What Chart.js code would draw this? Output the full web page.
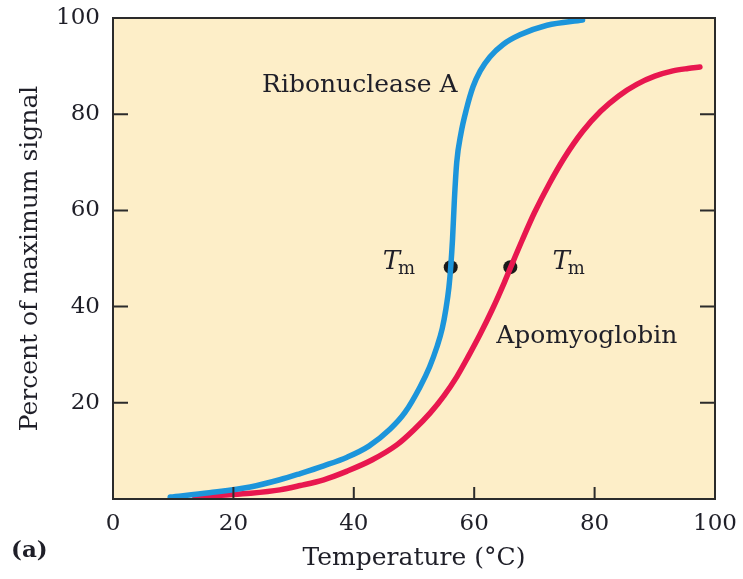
<!DOCTYPE html>
<html>
<head>
<title>Protein melting curves</title>
<script src="https://cdn.jsdelivr.net/npm/chart.js@4.4.1/dist/chart.umd.min.js"></script>
<style>
    body { margin: 0; background: #ffffff; }
    #wrap { width: 743px; height: 579px; position: relative; }
</style>
</head>
<body>
<div id="wrap"><canvas id="meltChart"></canvas></div>
<script>
// temperature (°C) and percent of max signal
const ribT = [9.5, 16, 22.8, 27.7, 31.1, 35, 38.9, 42.5, 46, 48.5, 51, 52.6, 53.8, 54.7, 55.3, 55.8, 56.1, 56.4, 56.7, 57.1, 57.8, 58.7, 59.8, 61, 62.6, 64.8, 67.6, 72.1, 78];
const ribV = [0.4, 1.3, 2.5, 4, 5.3, 6.9, 8.7, 11, 14.5, 18, 23.3, 27.5, 31.6, 35.5, 39.5, 44, 48.2, 54, 62, 70, 76, 81, 85.7, 89, 91.9, 94.5, 96.5, 98.5, 99.6];
const apoT = [13.6, 18, 22.8, 27.7, 31.1, 35, 38.9, 43, 47.2, 50, 52.7, 55, 57.1, 59, 61, 63, 65, 66, 68, 70, 72.5, 75, 78, 81, 84, 87, 90, 93, 95.5, 97.5];
const apoV = [0.4, 0.8, 1.2, 1.9, 2.8, 4, 5.8, 8.1, 11.3, 14.4, 17.9, 21.5, 25.4, 29.6, 34.3, 39.4, 45, 48, 53.9, 59.5, 65.6, 71, 76.4, 80.6, 83.8, 86.2, 87.9, 89, 89.5, 89.8];
const tmT = [56.1, 66];
const tmV = [48.2, 48.2];
const xTicks = [0, 20, 40, 60, 80, 100];
const yTicks = [20, 40, 60, 80, 100];

const serif = '"DejaVu Serif", "Liberation Serif", serif';
const ink = '#1f1f28';

function pts(xs, ys) {
    return xs.map((x, i) => ({ x: x, y: ys[i] }));
}

// background, frame and inward tick marks
const framePlugin = {
    id: 'frame',
    beforeDatasetsDraw(chart) {
        const { ctx, chartArea: a } = chart;
        ctx.save();
        ctx.fillStyle = '#fdeec8';
        ctx.fillRect(a.left, a.top, a.right - a.left, a.bottom - a.top);
        ctx.restore();
    },
    afterDatasetsDraw(chart) {
        const { ctx, chartArea: a, scales } = chart;
        ctx.save();
        ctx.strokeStyle = '#2b2b2b';
        ctx.lineWidth = 2;
        ctx.beginPath();
        [20, 40, 60, 80].forEach(v => {
            const y = scales.y.getPixelForValue(v);
            ctx.moveTo(a.left, y); ctx.lineTo(a.left + 15, y);
            ctx.moveTo(a.right, y); ctx.lineTo(a.right - 15, y);
            const x = scales.x.getPixelForValue(v);
            ctx.moveTo(x, a.bottom); ctx.lineTo(x, a.bottom - 12);
        });
        ctx.stroke();
        ctx.strokeRect(a.left, a.top, a.right - a.left, a.bottom - a.top);
        ctx.restore();
    }
};

// curve names, T_m labels and panel letter
const labelPlugin = {
    id: 'labels',
    afterDraw(chart) {
        const { ctx, scales } = chart;
        const sx = v => scales.x.getPixelForValue(v);
        const sy = v => scales.y.getPixelForValue(v);
        ctx.save();
        ctx.fillStyle = ink;
        ctx.textBaseline = 'middle';
        ctx.textAlign = 'center';
        ctx.font = '25px ' + serif;
        ctx.fillText('Ribonuclease A', sx(41), sy(86));
        ctx.fillText('Apomyoglobin', sx(78.7), sy(33.7));
        ctx.textAlign = 'left';
        [44.8, 73.0].forEach(t => {
            const x = sx(t), y = sy(49.2);
            ctx.font = 'italic 26px ' + serif;
            ctx.fillText('T', x, y);
            const w = ctx.measureText('T').width;
            ctx.font = '18px ' + serif;
            ctx.fillText('m', x + w - 2, y + 7);
        });
        ctx.font = 'bold 23px ' + serif;
        ctx.fillText('(a)', 11, 551);
        ctx.restore();
    }
};

new Chart(document.getElementById('meltChart'), {
    type: 'line',
    data: {
        datasets: [
            {
                label: 'Ribonuclease A',
                data: pts(ribT, ribV),
                borderColor: '#1c95db',
                borderWidth: 5.5,
                borderCapStyle: 'round',
                cubicInterpolationMode: 'monotone',
                pointRadius: 0,
                fill: false
            },
            {
                label: 'Apomyoglobin',
                data: pts(apoT, apoV),
                borderColor: '#e8174f',
                borderWidth: 5.5,
                borderCapStyle: 'round',
                cubicInterpolationMode: 'monotone',
                pointRadius: 0,
                fill: false
            },
            {
                label: 'Tm',
                data: pts(tmT, tmV),
                showLine: false,
                pointRadius: 7,
                pointBackgroundColor: '#1a1a1a',
                pointBorderWidth: 0
            }
        ]
    },
    options: {
        responsive: true,
        maintainAspectRatio: false,
        animation: false,
        layout: { padding: { top: 18, right: 28, left: 0, bottom: 0 } },
        plugins: { legend: { display: false }, tooltip: { enabled: false } },
        scales: {
            x: {
                type: 'linear',
                min: 0, max: 100,
                afterBuildTicks: s => { s.ticks = xTicks.map(v => ({ value: v })); },
                afterFit: s => { s.height = 80; s.paddingLeft = 0; s.paddingRight = 0; },
                grid: { display: false, drawTicks: false },
                border: { display: false },
                ticks: { color: ink, padding: 11, font: { family: serif, size: 23 } },
                title: {
                    display: true,
                    text: 'Temperature (°C)',
                    color: ink,
                    padding: { top: 0, bottom: 6 },
                    font: { family: serif, size: 25 }
                }
            },
            y: {
                type: 'linear',
                min: 0, max: 100,
                afterBuildTicks: s => { s.ticks = yTicks.map(v => ({ value: v })); },
                afterFit: s => { s.width = 113; s.paddingTop = 0; s.paddingBottom = 0; },
                grid: { display: false, drawTicks: false },
                border: { display: false },
                ticks: { color: ink, padding: 13, font: { family: serif, size: 23 } },
                title: {
                    display: true,
                    text: 'Percent of maximum signal',
                    color: ink,
                    padding: { top: 15, bottom: 0 },
                    font: { family: serif, size: 25 }
                }
            }
        }
    },
    plugins: [framePlugin, labelPlugin]
});
</script>
</body>
</html>
